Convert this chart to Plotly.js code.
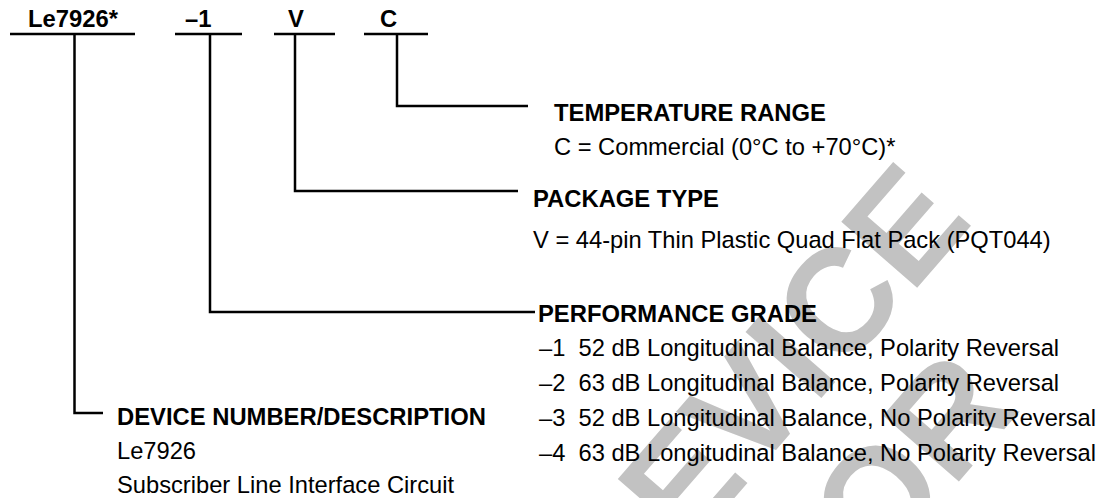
<!DOCTYPE html>
<html>
<head>
<meta charset="utf-8">
<script src="https://cdn.plot.ly/plotly-3.0.1.min.js"></script>
<style>
  html, body { margin: 0; padding: 0; background: #ffffff; }
  #chart { width: 1103px; height: 498px; }
</style>
</head>
<body>
<div id="chart"></div>
<script>
// ---- content (data) ----
const codeSegments = ['Le7926*', '–1', 'V', 'C'];
const fieldTitles = ['TEMPERATURE RANGE', 'PACKAGE TYPE', 'PERFORMANCE GRADE', 'DEVICE NUMBER/DESCRIPTION'];
const temperatureLines = ['C = Commercial (0°C to +70°C)*'];
const packageLines = ['V = 44-pin Thin Plastic Quad Flat Pack (PQT044)'];
const gradeLines = [
  '–1\u00a0\u00a052 dB Longitudinal Balance, Polarity Reversal',
  '–2\u00a0\u00a063 dB Longitudinal Balance, Polarity Reversal',
  '–3\u00a0\u00a052 dB Longitudinal Balance, No Polarity Reversal',
  '–4\u00a0\u00a063 dB Longitudinal Balance, No Polarity Reversal'
];
const deviceLines = ['Le7926', 'Subscriber Line Interface Circuit'];
const watermarkLines = ['DEVICE', 'FOR'];

// ---- layout geometry (pixel-like axis units) ----
const FONT = 'Liberation Sans, Arial, Helvetica, sans-serif';
const FSB = 23.8;
const FSR = 23.7;
const LW = 2.5;
const segGeom = [
  {cx: 73,  u0: 10,  u1: 135, vx: 74.5},
  {cx: 198, u0: 175, u1: 242, vx: 210},
  {cx: 296, u0: 274, u1: 335, vx: 295},
  {cx: 388, u0: 364, u1: 428, vx: 397}
];
const underlineY = 34;
const fieldGeom = [
  {seg: 3, ly: 106, lx: 528, tx: 552, ty: 112, rows: [147]},
  {seg: 2, ly: 191, lx: 518, tx: 531, ty: 198, rows: [240]},
  {seg: 1, ly: 312, lx: 535, tx: 536, ty: 313, rows: [348, 383, 418, 453]},
  {seg: 0, ly: 413, lx: 103, tx: 115, ty: 416, rows: [451, 485]}
];
const fieldLines = [temperatureLines, packageLines, gradeLines, deviceLines];

const shapes = [];
const annotations = [];

// watermark (drawn first, behind)
const wmFont = {family: FONT, size: 146, color: '#c2c2c2', weight: 'bold'};
annotations.push({
  x: 758, y: 393, xref: 'x', yref: 'y', text: watermarkLines[0], showarrow: false,
  xanchor: 'center', yanchor: 'middle', textangle: -49, font: wmFont
});
annotations.push({
  x: 882, y: 492, xref: 'x', yref: 'y', text: watermarkLines[1], showarrow: false,
  xanchor: 'center', yanchor: 'middle', textangle: -49, font: wmFont
});

codeSegments.forEach((s, i) => {
  const g = segGeom[i];
  annotations.push({
    x: g.cx, y: 18, xref: 'x', yref: 'y', text: s, showarrow: false,
    xanchor: 'center', yanchor: 'middle',
    font: {family: FONT, size: FSB, color: '#000', weight: 'bold'}
  });
  shapes.push({type: 'line', xref: 'x', yref: 'y', x0: g.u0, x1: g.u1, y0: underlineY, y1: underlineY,
    line: {color: '#000', width: LW}});
});

fieldGeom.forEach((f, i) => {
  const g = segGeom[f.seg];
  shapes.push({type: 'path', xref: 'x', yref: 'y',
    path: `M${g.vx},${underlineY} L${g.vx},${f.ly} L${f.lx},${f.ly}`,
    line: {color: '#000', width: LW}});
  annotations.push({
    x: f.tx, y: f.ty, xref: 'x', yref: 'y', text: fieldTitles[i], showarrow: false,
    xanchor: 'left', yanchor: 'middle',
    font: {family: FONT, size: FSB, color: '#000', weight: 'bold'}
  });
  fieldLines[i].forEach((t, j) => {
    annotations.push({
      x: f.tx + (i === 2 ? 1 : 0), y: f.rows[j], xref: 'x', yref: 'y', text: t, showarrow: false,
      xanchor: 'left', yanchor: 'middle',
      font: {family: FONT, size: FSR, color: '#000'}
    });
  });
});

const layout = {
  width: 1103, height: 498,
  margin: {l: 0, r: 0, t: 0, b: 0, pad: 0},
  paper_bgcolor: '#ffffff', plot_bgcolor: '#ffffff',
  showlegend: false,
  xaxis: {range: [0, 1103], visible: false, fixedrange: true},
  yaxis: {range: [498, 0], visible: false, fixedrange: true},
  shapes: shapes,
  annotations: annotations
};

Plotly.newPlot('chart', [{x: [], y: [], type: 'scatter', mode: 'markers', hoverinfo: 'skip'}], layout,
  {staticPlot: true, displayModeBar: false});
</script>
</body>
</html>
